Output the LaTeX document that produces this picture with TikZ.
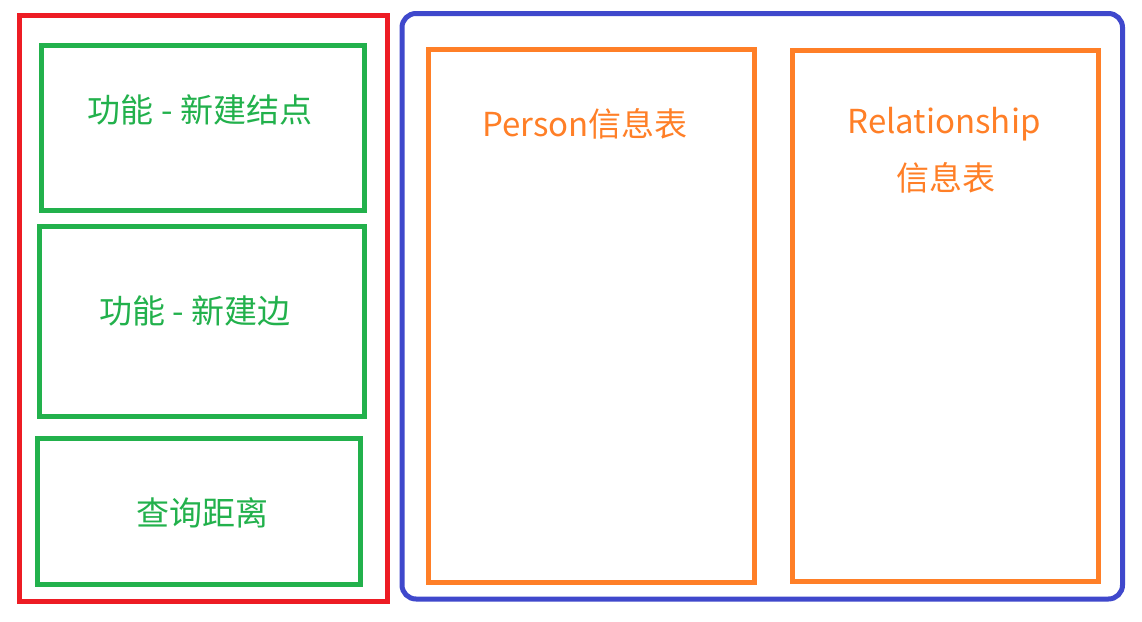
\documentclass[tikz,border=0pt]{standalone}
\usepackage{fontspec}
\newfontfamily\cjk{Noto Sans CJK SC}
\definecolor{pred}{HTML}{ED1C24}
\definecolor{pgreen}{HTML}{22B14C}
\definecolor{pblue}{HTML}{3F48CC}
\definecolor{porange}{HTML}{FF7F27}
\begin{document}
\begin{tikzpicture}[x=1pt,y=-1pt,
  frame/.style={line width=5pt},
  lbl/.style={font=\cjk\fontsize{33}{40}\selectfont, inner sep=0pt, anchor=center}]
\useasboundingbox (0,0) rectangle (1142,621);
\fill[white] (0,0) rectangle (1142,621);
% left panel
\draw[frame, pred] (19.5,15.5) rectangle (387.5,601);
\draw[frame, pgreen] (41.5,45.5) rectangle (364,210.5);
\draw[frame, pgreen] (39.5,226.5) rectangle (364.5,416.5);
\draw[frame, pgreen] (37.5,438.5) rectangle (360.5,584.5);
\node[lbl, text=pgreen] (t1) at (200,110) {功能 - 新建结点};
\node[lbl, text=pgreen] (t2) at (195,311) {功能 - 新建边};
\node[lbl, text=pgreen] (t3) at (202.5,513) {查询距离};
% right panel
\draw[frame, pblue, rounded corners=14pt] (402,13.5) rectangle (1122.5,599);
\draw[frame, porange] (428.5,49.5) rectangle (754,582.5);
\draw[frame, porange] (792.5,50.5) rectangle (1098.5,581);
\node[lbl, text=porange] (t4) at (585,124) {Person信息表};
\node[lbl, text=porange] (t5) at (944,124) {Relationship};
\node[lbl, text=porange] (t6) at (946,178) {信息表};
\end{tikzpicture}
\end{document}
